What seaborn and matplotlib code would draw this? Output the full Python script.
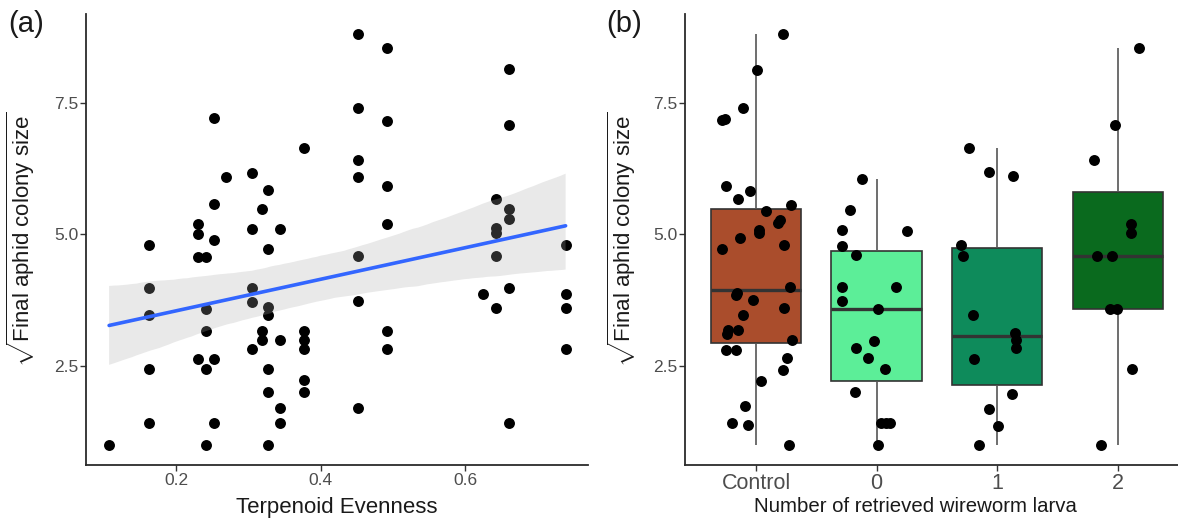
import numpy as np
import pandas as pd
import matplotlib
matplotlib.use("Agg")
import matplotlib.pyplot as plt
import seaborn as sns
from matplotlib.collections import PolyCollection

# ---------------- data: panel (a) ----------------
evenness = [0.107,
            0.162, 0.162, 0.162, 0.162, 0.162,
            0.230, 0.230, 0.230, 0.241, 0.230, 0.252, 0.241, 0.241, 0.241, 0.241,
            0.252, 0.252, 0.252, 0.252,
            0.269,
            0.305, 0.305, 0.305, 0.305, 0.305,
            0.318, 0.318, 0.318,
            0.327, 0.327, 0.327, 0.327, 0.327, 0.327, 0.327,
            0.343, 0.343, 0.343, 0.343,
            0.377, 0.377, 0.377, 0.377, 0.377, 0.377,
            0.452, 0.452, 0.452, 0.452, 0.452, 0.452, 0.452,
            0.492, 0.492, 0.492, 0.492, 0.492, 0.492,
            0.624,
            0.643, 0.643, 0.643, 0.643, 0.643,
            0.660, 0.660, 0.660, 0.660, 0.660, 0.660,
            0.739, 0.739, 0.739, 0.739]
size_a = [1.00,
          4.80, 3.98, 3.47, 2.44, 1.40,
          5.19, 5.00, 4.57, 4.57, 2.63, 2.63, 2.44, 3.58, 3.15, 1.00,
          1.40, 4.89, 5.57, 7.22,
          6.09,
          6.16, 5.10, 3.98, 3.71, 2.82,
          5.48, 3.15, 2.99,
          5.84, 4.72, 3.62, 3.47, 2.44, 1.99, 1.00,
          5.10, 2.99, 1.70, 1.40,
          6.64, 3.15, 2.99, 2.82, 2.22, 1.99,
          8.80, 7.41, 6.41, 6.09, 4.59, 3.73, 1.70,
          8.55, 7.15, 5.92, 5.19, 3.15, 2.82,
          3.87,
          5.67, 5.12, 5.02, 4.59, 3.60,
          8.14, 7.07, 5.48, 5.29, 3.98, 1.40,
          4.80, 3.87, 3.60, 2.82]

# ---------------- data: panel (b) ----------------
groups = ["Control", "0", "1", "2"]
ctrl_y = [8.81, 8.13, 7.40, 7.18, 7.20, 5.92, 5.83, 5.68, 5.55, 5.45, 5.28, 5.22,
          5.08, 5.02, 4.92, 4.80, 4.72, 4.00, 3.89, 3.85, 3.75, 3.59, 3.47, 3.18,
          3.10, 3.17, 2.99, 2.79, 2.79, 2.65, 2.42, 2.20, 1.73, 1.41, 1.37, 1.00]
ctrl_dx = [0.22, 0.01, -0.11, -0.28, -0.26, -0.25, -0.05, -0.15, 0.29, 0.085, 0.20, 0.18,
           0.02, 0.02, -0.13, 0.23, -0.28, 0.28, -0.16, -0.17, -0.03, 0.23, -0.11, -0.23,
           -0.24, -0.15, 0.30, -0.25, -0.17, 0.26, 0.22, 0.04, -0.09, -0.20, -0.07, 0.27]
g0_y = [6.06, 5.47, 5.08, 5.07, 4.77, 4.60, 4.00, 4.00, 3.73, 3.57, 2.96, 2.83,
        2.65, 2.43, 1.99, 1.40, 1.40, 1.40, 1.00]
g0_dx = [-0.12, -0.22, -0.29, 0.25, -0.29, -0.17, -0.29, 0.16, -0.29, 0.01, -0.02, -0.17,
         -0.07, 0.07, -0.18, 0.04, 0.08, 0.11, 0.01]
g1_y = [6.65, 6.18, 6.10, 4.80, 4.58, 3.47, 3.12, 2.99, 2.83, 2.63, 1.96, 1.67, 1.36, 1.00]
g1_dx = [-0.23, -0.07, 0.13, -0.30, -0.28, -0.20, 0.15, 0.16, 0.16, -0.19, 0.12, -0.07, 0.01, -0.15]
g2_y = [8.55, 7.07, 6.42, 5.20, 5.02, 4.59, 4.59, 3.57, 3.57, 2.43, 1.00]
g2_dx = [0.18, -0.02, -0.20, 0.11, 0.11, -0.17, -0.05, -0.06, -0.01, 0.12, -0.14]

box_colors = {"Control": "#AA4D2C", "0": "#5CEE98", "1": "#0E8B5B", "2": "#0A6A1E"}

# ---------------- style ----------------
sns.set_theme(style="ticks")
plt.rcParams["font.family"] = ["Liberation Sans", "DejaVu Sans"]
plt.rcParams["mathtext.fontset"] = "custom"
plt.rcParams["mathtext.rm"] = "Liberation Sans"
plt.rcParams["mathtext.it"] = "Liberation Sans:italic"
plt.rcParams["mathtext.bf"] = "Liberation Sans:bold"

W, H = 1178, 522
fig = plt.figure(figsize=(W / 100, H / 100), dpi=100)
axA = fig.add_axes([86 / W, 1 - 465 / H, (588 - 86) / W, (465 - 14) / H])
axB = fig.add_axes([685 / W, 1 - 465 / H, (W - 685) / W, (465 - 14) / H])

tick_col = "#4D4D4D"
line_col = "#2B2B2B"
ylab = r"$\sqrt{\mathrm{Final\ aphid\ colony\ size}}$"

# ---------------- panel (a) ----------------
dfa = pd.DataFrame({"evenness": evenness, "size": size_a})
sns.scatterplot(data=dfa, x="evenness", y="size", ax=axA, color="black",
                s=62, linewidth=0, zorder=2)
sns.regplot(data=dfa, x="evenness", y="size", ax=axA, scatter=False, ci=95,
            n_boot=1000, seed=3, color="#3366FF",
            line_kws={"linewidth": 2.6, "zorder": 4})
for c in axA.collections:
    if isinstance(c, PolyCollection):
        c.set_facecolor("#A8A8A8")
        c.set_alpha(0.25)
        c.set_edgecolor("none")
        c.set_zorder(3)

axA.set_xlim(0.075, 0.77)
axA.set_ylim(0.61, 9.19)
axA.set_xticks([0.2, 0.4, 0.6])
axA.set_xticklabels(["0.2", "0.4", "0.6"])
axA.set_yticks([2.5, 5.0, 7.5])
axA.set_yticklabels(["2.5", "5.0", "7.5"])
axA.set_xlabel("Terpenoid Evenness", fontsize=16, color="#1A1A1A")
axA.set_ylabel(ylab, fontsize=16, color="#1A1A1A")
axA.xaxis.set_label_coords(0.5, -0.071)
axA.yaxis.set_label_coords(-0.098, 0.5)

# ---------------- panel (b) ----------------
ys = [ctrl_y, g0_y, g1_y, g2_y]
dxs = [ctrl_dx, g0_dx, g1_dx, g2_dx]
rows = []
for i, (g, yv, dv) in enumerate(zip(groups, ys, dxs)):
    for y, d in zip(yv, dv):
        rows.append({"pos": i, "group": g, "size": y, "jit": i + d})
dfb = pd.DataFrame(rows)

sns.boxplot(data=dfb, x="pos", y="size", hue="group", palette=box_colors,
            saturation=1, native_scale=True, orient="v", dodge=False, width=0.75,
            linecolor="#333333", linewidth=1.2, showcaps=False, showfliers=False,
            medianprops={"linewidth": 2.4, "color": "#333333"},
            whiskerprops={"color": "#555555"},
            legend=False, ax=axB)
sns.scatterplot(data=dfb, x="jit", y="size", ax=axB, color="black", s=62,
                linewidth=0, zorder=5, legend=False)

axB.set_xlim(-0.59, 3.50)
axB.set_ylim(0.61, 9.19)
axB.set_xticks([0, 1, 2, 3])
axB.set_xticklabels(groups)
axB.set_yticks([2.5, 5.0, 7.5])
axB.set_yticklabels(["2.5", "5.0", "7.5"])
axB.set_xlabel("Number of retrieved wireworm larva", fontsize=14.7, color="#1A1A1A")
axB.set_ylabel(ylab, fontsize=16, color="#1A1A1A")
axB.xaxis.set_label_coords((915 - 685) / 493, -0.071)
axB.yaxis.set_label_coords(-0.095, 0.5)

for ax in (axA, axB):
    sns.despine(ax=ax)
    for s in ("left", "bottom"):
        ax.spines[s].set_linewidth(1.3)
        ax.spines[s].set_color(line_col)
    ax.tick_params(axis="both", length=4.5, width=1.0, color="#333333",
                   labelcolor=tick_col, labelsize=12.5)
    ax.tick_params(axis="x", pad=1.5)
    ax.tick_params(axis="y", pad=1.0)
axB.tick_params(axis="x", labelsize=15.5)

fig.text(8 / W, 1 - 10 / H, "(a)", fontsize=21, color="#1A1A1A", va="top", ha="left")
fig.text(606 / W, 1 - 10 / H, "(b)", fontsize=21, color="#1A1A1A", va="top", ha="left")

fig.savefig("out.png", dpi=100)
